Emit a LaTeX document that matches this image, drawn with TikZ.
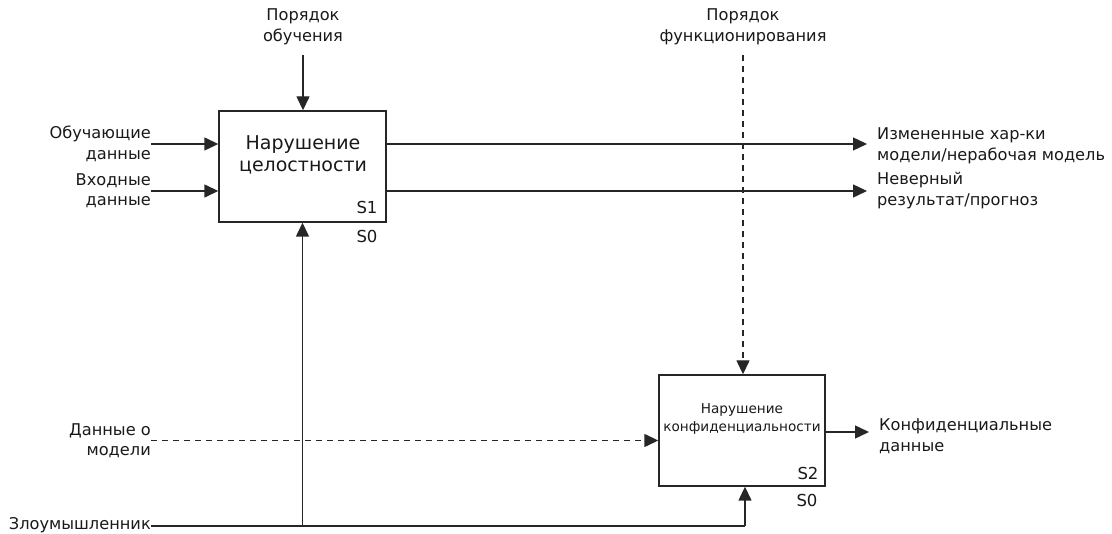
\documentclass[tikz,border=0pt]{standalone}
\usepackage{fontspec}
\setmainfont{DejaVu Sans}
\usetikzlibrary{arrows.meta}
\begin{document}
\begin{tikzpicture}[x=1pt,y=-1pt,
  ln/.style={line width=1.4pt,draw=black!85},
  arr/.style={ln,-{Triangle[length=14pt,width=13pt]}},
  darr/.style={arr,dash pattern=on 6pt off 5pt},
  box/.style={draw=black!85,line width=1.4pt,fill=white,inner sep=0pt},
  lbl/.style={inner sep=0pt,font=\fontsize{16.2}{20.5}\selectfont,text=black!90},
  lblr/.style={lbl,align=right,anchor=east},
  lbll/.style={lbl,align=left,anchor=west},
  lblc/.style={lbl,align=center},
  tag/.style={inner sep=0pt,font=\fontsize{16.5}{18}\selectfont,text=black!90}]
\useasboundingbox (0,0) rectangle (1112,534);
% boxes
\node[box,minimum width=167pt,minimum height=111pt] (b1) at (302.5,166.5) {};
\node[lblc,font=\fontsize{19}{22.5}\selectfont] (t1) at (303,155) {Нарушение\\целостности};
\node[tag] (s1) at (367,207) {S1};
\node[tag] (s0a) at (367,236) {S0};
\node[box,minimum width=166pt,minimum height=111pt] (b2) at (742,430.5) {};
\node[lblc,font=\fontsize{13.6}{18}\selectfont] (t2) at (742,419) {Нарушение\\конфиденциальности};
\node[tag] (s2) at (808,473) {S2};
\node[tag] (s0b) at (807,500) {S0};
% labels
\node[lblc] (po) at (303,27) {Порядок\\обучения};
\node[lblc] (pf) at (743,27) {Порядок\\функционирования};
\node[lblr] (in1) at (151,144) {Обучающие\\данные};
\node[lblr] (in2) at (151,190.5) {Входные\\данные};
\node[lblr] (dm) at (151,440.5) {Данные о\\модели};
\node[lblr] (zl) at (151,525) {Злоумышленник};
\node[lbll] (o1) at (877,146) {Измененные хар-ки\\модели/нерабочая модель};
\node[lbll] (o2) at (877,190.5) {Неверный\\результат/прогноз};
\node[lbll] (o3) at (879,436) {Конфиденциальные\\данные};
% connectors
\draw[arr] ([yshift=-10pt]po.south) -- (po.south |- b1.north);
\draw[arr] (in1.east) -- (in1.east -| b1.west);
\draw[arr] ([yshift=-0.5pt]in2.east) -- ([yshift=-0.5pt]in2.east -| b1.west);
\draw[arr] ([yshift=2pt]b1.east |- o1.west) -- ([xshift=-10pt,yshift=2pt]o1.west);
\draw[arr] ([yshift=-0.5pt]b1.east |- o2.west) -- ([xshift=-10pt,yshift=-0.5pt]o2.west);
\draw[darr] ([yshift=-10pt]pf.south) -- (pf.south |- b2.north);
\draw[darr] (dm.east) -- (dm.east -| b2.west);
\draw[arr] ([yshift=4pt]b2.east |- o3.west) -- ([xshift=-10pt,yshift=4pt]o3.west);
\coordinate (j1) at ([yshift=-1pt]b1.south |- zl.east);
\coordinate (j2) at ([xshift=3pt,yshift=-1pt]b2.south |- zl.east);
\draw[ln] ([yshift=-1pt]zl.east) -- (j2);
\draw[arr] (j2) -- ([xshift=3pt]b2.south);
\draw[arr] (j1) -- (b1.south);
\end{tikzpicture}
\end{document}
